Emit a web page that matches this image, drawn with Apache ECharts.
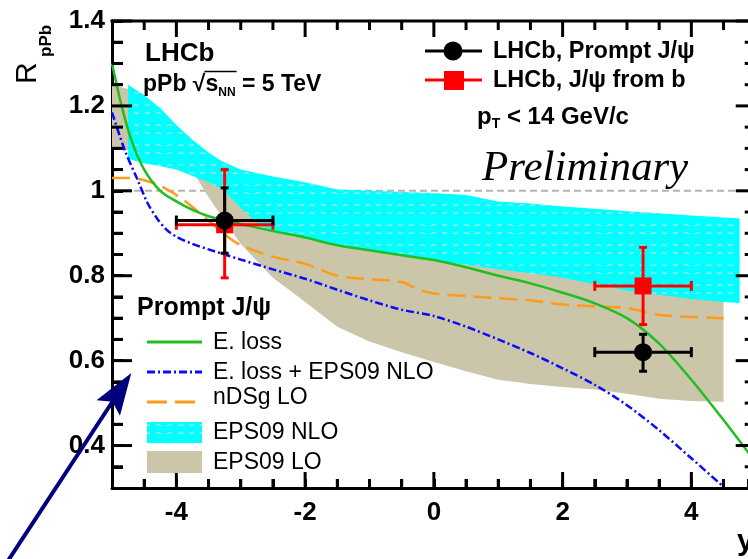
<!DOCTYPE html>
<html>
<head>
<meta charset="utf-8">
<script src="https://cdn.jsdelivr.net/npm/echarts@6/dist/echarts.min.js"></script>
<style>
  html, body { margin: 0; padding: 0; background: #fff; }
  #chart { width: 748px; height: 559px; }
</style>
</head>
<body>
<div id="chart"></div>
<script>
// ---- axis ranges and tick labels ----
// the frame runs from y = -5 to 5; the visible window stops a little short of 5
const xMin = -5, xMax = 4.88, xFrameEnd = 5;
const yMin = 0.3, yMax = 1.4;
const xTickLabels = [-4, -2, 0, 2, 4];
const yTickLabels = [0.4, 0.6, 0.8, 1, 1.2, 1.4];
const xTickStep = 0.5;   // minor tick spacing on the rapidity axis
const yTickStep = 0.05;  // minor tick spacing on the R_pPb axis
const refLineY = [1, 1];
const refLineX = [-5, 5];

// ---- theory curves (rapidity y vs R_pPb) ----
const eLossX = [-5, -4.85, -4.7, -4.5, -4.25, -4, -3.75, -3.5, -3.25, -3, -2.5, -2, -1.5, -1, -0.5, 0, 0.5, 1, 1.5, 2, 2.5, 3, 3.5, 4, 4.5, 5];
const eLossY = [1.30, 1.20, 1.12, 1.05, 1.00, 0.975, 0.955, 0.94, 0.93, 0.922, 0.905, 0.89, 0.872, 0.86, 0.848, 0.837, 0.82, 0.80, 0.782, 0.76, 0.735, 0.70, 0.64, 0.555, 0.46, 0.36];

const eLossEpsX = [-5, -4.8, -4.6, -4.45, -4.3, -4.15, -4, -3.75, -3.5, -3.25, -3, -2.5, -2, -1.5, -1, -0.5, 0, 0.5, 1, 1.5, 2, 2.5, 3, 3.5, 4, 4.5];
const eLossEpsY = [1.185, 1.095, 1.025, 0.972, 0.935, 0.908, 0.892, 0.875, 0.862, 0.85, 0.838, 0.815, 0.793, 0.767, 0.742, 0.72, 0.705, 0.68, 0.65, 0.618, 0.582, 0.543, 0.495, 0.436, 0.37, 0.303];

const ndsgX = [-5, -4.75, -4.5, -4.25, -4, -3.75, -3.5, -3.25, -3, -2.5, -2, -1.5, -1, -0.5, -0.25, 0, 0.5, 1, 1.5, 2, 2.5, 3, 3.5, 4, 4.5];
const ndsgY = [1.03, 1.03, 1.025, 1.012, 0.99, 0.962, 0.93, 0.897, 0.872, 0.845, 0.828, 0.80, 0.792, 0.785, 0.768, 0.758, 0.752, 0.747, 0.742, 0.732, 0.728, 0.724, 0.708, 0.703, 0.70];

// ---- EPS09 uncertainty bands ----
const nloX  = [-4.75, -4.5, -4.25, -4, -3.75, -3.5, -3.3, -3, -2.75, -2.5, -2, -1.5, -1, -0.5, 0, 0.5, 1, 1.5, 2, 2.5, 3, 3.5, 4, 4.5, 4.75];
const nloHi = [1.25, 1.225, 1.195, 1.155, 1.12, 1.09, 1.07, 1.05, 1.042, 1.034, 1.02, 1.003, 1.0, 0.997, 0.995, 0.99, 0.975, 0.97, 0.963, 0.958, 0.952, 0.947, 0.942, 0.937, 0.935];
const nloLo = [1.075, 1.065, 1.058, 1.05, 1.035, 1.02, 1.005, 0.96, 0.925, 0.905, 0.888, 0.872, 0.86, 0.848, 0.837, 0.826, 0.815, 0.806, 0.795, 0.78, 0.765, 0.755, 0.745, 0.738, 0.736];

const loX  = [-5, -4.75, -4.5, -4, -3.7, -3.5, -3.25, -3, -2.5, -2, -1.5, -1, -0.5, 0, 0.5, 1, 1.5, 2, 2.5, 3, 3.5, 4, 4.5];
const loHi = [1.25, 1.24, 1.21, 1.13, 1.08, 1.06, 1.04, 1.02, 1.0, 0.99, 0.975, 0.96, 0.95, 0.94, 0.93, 0.92, 0.91, 0.9, 0.89, 0.88, 0.87, 0.86, 0.85];
const loLo = [1.10, 1.095, 1.085, 1.06, 1.035, 0.985, 0.93, 0.875, 0.795, 0.738, 0.68, 0.645, 0.62, 0.597, 0.575, 0.555, 0.545, 0.538, 0.532, 0.522, 0.51, 0.505, 0.503];

// ---- LHCb measurements ----
const promptX = [-3.25, 3.25];
const promptY = [0.93, 0.62];
const promptXLo = [-4, 2.5];
const promptXHi = [-2.5, 4];
const promptYLo = [0.853, 0.575];
const promptYHi = [1.007, 0.662];

const fromBX = [-3.25, 3.25];
const fromBY = [0.92, 0.776];
const fromBXLo = [-4, 2.5];
const fromBXHi = [-2.5, 4];
const fromBYLo = [0.795, 0.685];
const fromBYHi = [1.05, 0.867];

// ---- arrow annotation (data coordinates) ----
const arrowFrom = [-6.77, 0.093];
const arrowTo = [-4.70, 0.571];

// ---- colours ----
const GREEN = '#1fbf1f';
const BLUE = '#0a0aff';
const ORANGE = '#ff9a1a';
const CYAN = '#00ffff';
const TAN = '#cbc5aa';
const NAVY = '#00007f';
const FONT = '"Liberation Sans", Arial, Helvetica, sans-serif';

// every tick position (labelled and unlabelled) inside the frame
function tickValues(from, to, step) {
  const out = [];
  const n = Math.round((to - from) / step);
  for (let i = 1; i < n; i++) out.push(+(from + i * step).toFixed(4));
  return out;
}
const xTicksAll = tickValues(xMin, xFrameEnd, xTickStep);
const yTicksAll = tickValues(yMin, yMax, yTickStep).concat([yMax]);
const isMajor = (list, v) => list.some(m => Math.abs(m - v) < 1e-6);

// cyan fill with little white zigzags
function hatch() {
  const c = document.createElement('canvas');
  c.width = 11; c.height = 20;
  const g = c.getContext('2d');
  g.fillStyle = CYAN; g.fillRect(0, 0, 11, 20);
  g.fillStyle = 'rgba(255,255,255,0.85)';
  [4, 12].forEach(yy => {
    g.fillRect(2, yy + 1, 1, 1); g.fillRect(3, yy, 1, 1);
    g.fillRect(4, yy + 1, 1, 1); g.fillRect(5, yy, 1, 1); g.fillRect(6, yy + 1, 1, 1);
  });
  return c;
}
const cyanBandFill = { image: hatch(), repeat: 'repeat' };
const cyanKeyFill = { image: hatch(), repeat: 'repeat' };

// a line element with its own style object
function seg(x1, y1, x2, y2, stroke, lineWidth, lineDash) {
  const style = { stroke: stroke || '#000', lineWidth: lineWidth || 3 };
  if (lineDash) style.lineDash = lineDash;
  return { type: 'line', shape: { x1, y1, x2, y2 }, style };
}

function band(name, xs, lo, hi, fill, z) {
  return {
    type: 'custom', name, clip: true, z,
    data: [[xs[0], hi[0]]],
    renderItem(params, api) {
      const pts = [];
      for (let i = 0; i < xs.length; i++) pts.push(api.coord([xs[i], hi[i]]));
      for (let i = xs.length - 1; i >= 0; i--) pts.push(api.coord([xs[i], lo[i]]));
      return { type: 'polygon', shape: { points: pts }, style: { fill, stroke: null } };
    }
  };
}

function curve(name, xs, ys, color, type, z) {
  return {
    type: 'line', name, z, showSymbol: false, smooth: 0.3,
    data: xs.map((x, i) => [x, ys[i]]),
    lineStyle: { color, width: 2.5, type }
  };
}

// measurement points with their x and y error bars
function measurement(name, xs, ys, xlo, xhi, ylo, yhi, color, marker, z) {
  return {
    type: 'custom', name, z, clip: false,
    data: xs.map((x, i) => [x, ys[i], xlo[i], xhi[i], ylo[i], yhi[i]]),
    renderItem(params, api) {
      const x = api.value(0), y = api.value(1);
      const c = api.coord([x, y]);
      const l = api.coord([api.value(2), y]), r = api.coord([api.value(3), y]);
      const b = api.coord([x, api.value(4)]), t = api.coord([x, api.value(5)]);
      const mark = marker === 'circle'
        ? { type: 'circle', shape: { cx: c[0], cy: c[1], r: 9 }, style: { fill: color } }
        : { type: 'rect', shape: { x: c[0] - 8.5, y: c[1] - 8.5, width: 17, height: 17 }, style: { fill: color } };
      return {
        type: 'group', children: [
          seg(l[0], l[1], r[0], r[1], color),
          seg(t[0], t[1], b[0], b[1], color),
          seg(l[0], l[1] - 5, l[0], l[1] + 5, color),
          seg(r[0], r[1] - 5, r[0], r[1] + 5, color),
          seg(t[0] - 4, t[1], t[0] + 4, t[1], color),
          seg(b[0] - 4, b[1], b[0] + 4, b[1], color),
          mark
        ]
      };
    }
  };
}

// inward tick marks, one item per tick, placed through the axis scales
const yTickSeries = {
  type: 'custom', name: 'yticks', z: 20, clip: false,
  data: yTicksAll.map(v => [xMin, v]),
  renderItem(params, api) {
    const v = api.value(1);
    const p = api.coord([xMin, v]);
    const pe = api.coord([xMax, v]);
    // right edge of the frame at y = 5, just past the visible window
    const qx = p[0] + (pe[0] - p[0]) * (xFrameEnd - xMin) / (xMax - xMin);
    const L = isMajor(yTickLabels, v) ? 20 : 11;
    return { type: 'group', children: [
      seg(p[0], p[1], p[0] + L, p[1]),
      seg(qx, p[1], qx - L, p[1])
    ] };
  }
};
const xTickSeries = {
  type: 'custom', name: 'xticks', z: 20, clip: false,
  data: xTicksAll.map(v => [v, yMin]),
  renderItem(params, api) {
    const v = api.value(0);
    const p = api.coord([v, yMin]);
    const q = api.coord([v, yMax]);
    const L = isMajor(xTickLabels, v) ? 16 : 9;
    return { type: 'group', children: [
      seg(p[0], p[1], p[0], p[1] - L),
      seg(q[0], q[1], q[0], q[1] + L)
    ] };
  }
};
// upper edge of the frame
const topFrame = {
  type: 'custom', name: 'frame', z: 20, clip: false,
  data: [[0, yMax]],
  renderItem(params, api) {
    const a = api.coord([xMin, yMax]);
    const b = api.coord([xMax, yMax]);
    return { type: 'group', children: [seg(a[0] - 1.5, a[1], b[0], b[1])] };
  }
};

// arrow pointing at the legend
const arrowSeries = {
  type: 'custom', name: 'arrow', z: 40, clip: false,
  data: [arrowTo],
  renderItem(params, api) {
    const p0 = api.coord(arrowFrom);
    const p1 = api.coord(arrowTo);
    const dx = p1[0] - p0[0], dy = p1[1] - p0[1];
    const len = Math.hypot(dx, dy);
    const ux = dx / len, uy = dy / len;
    const headLen = 42, headHalf = 14;
    const base = [p1[0] - ux * headLen, p1[1] - uy * headLen];
    const notch = [p1[0] - ux * headLen * 0.82, p1[1] - uy * headLen * 0.82];
    return { type: 'group', children: [
      seg(p0[0], p0[1], notch[0], notch[1], NAVY, 4),
      { type: 'polygon', shape: { points: [
        p1,
        [base[0] - uy * headHalf, base[1] + ux * headHalf],
        notch,
        [base[0] + uy * headHalf, base[1] - ux * headHalf]
      ] }, style: { fill: NAVY } }
    ] };
  }
};

// text measuring for the square-root overline
const meas = document.createElement('canvas').getContext('2d');
function textWidth(str, font) { meas.font = font; return meas.measureText(str).width; }

const BOLD = s => `bold ${s}px ${FONT}`;
const PLAIN = s => `${s}px ${FONT}`;
const txt = (x, y, text, font) => ({
  type: 'text', x, y,
  style: { text, fill: '#000', font, verticalAlign: 'middle', align: 'left' }
});

const energyFont = BOLD(23);
const rootStart = 143 + textWidth('pPb \u221a', energyFont);
const rootEnd = 143 + textWidth('pPb \u221as', energyFont) + textWidth('NN', BOLD(12)) + 1;

// legends, labels and titles
function annotationItems() {
  return [
    // theory legend
    txt(137, 308, 'Prompt J/\u03c8', BOLD(25)),
    seg(147, 342, 202, 342, GREEN, 3),
    txt(213, 343, 'E. loss', PLAIN(23)),
    seg(147, 372, 202, 372, BLUE, 3, [8, 3, 2, 3]),
    txt(213, 373, 'E. loss + EPS09 NLO', PLAIN(23)),
    seg(147, 402, 202, 402, ORANGE, 3, [20, 8]),
    txt(213, 398, 'nDSg LO', PLAIN(23)),
    { type: 'rect', shape: { x: 147, y: 422, width: 55, height: 21 }, style: { fill: cyanKeyFill } },
    txt(213, 433, 'EPS09 NLO', PLAIN(23)),
    { type: 'rect', shape: { x: 147, y: 451, width: 55, height: 22 }, style: { fill: TAN } },
    txt(213, 463, 'EPS09 LO', PLAIN(23)),

    // data legend
    seg(425, 51, 482, 51, '#000', 3),
    { type: 'circle', shape: { cx: 453, cy: 51, r: 9.5 }, style: { fill: '#000' } },
    txt(493, 52, 'LHCb, Prompt J/\u03c8', BOLD(23.5)),
    seg(425, 80, 482, 80, '#ff0000', 3),
    { type: 'rect', shape: { x: 444, y: 71, width: 20, height: 19 }, style: { fill: '#ff0000' } },
    txt(493, 81, 'LHCb, J/\u03c8 from b', BOLD(23.5)),
    {
      type: 'text', x: 477, y: 117,
      style: {
        text: '{n|p}{s|T}{n| < 14 GeV/c}', verticalAlign: 'middle', align: 'left',
        rich: {
          n: { fontFamily: FONT, fontWeight: 'bold', fontSize: 24, fill: '#000', lineHeight: 29, verticalAlign: 'middle' },
          s: { fontFamily: FONT, fontWeight: 'bold', fontSize: 14, fill: '#000', lineHeight: 29, verticalAlign: 'bottom' }
        }
      }
    },
    {
      type: 'text', x: 482, y: 169,
      style: { text: 'Preliminary', fill: '#000', font: 'italic 43px "Liberation Serif", "Times New Roman", serif', verticalAlign: 'middle', align: 'left' }
    },

    // experiment label
    txt(145, 54, 'LHCb', BOLD(26)),
    {
      type: 'text', x: 143, y: 85,
      style: {
        text: '{n|pPb \u221as}{s|NN}{n| = 5 TeV}', verticalAlign: 'middle', align: 'left',
        rich: {
          n: { fontFamily: FONT, fontWeight: 'bold', fontSize: 23, fill: '#000', lineHeight: 27, verticalAlign: 'middle' },
          s: { fontFamily: FONT, fontWeight: 'bold', fontSize: 12, fill: '#000', lineHeight: 27, verticalAlign: 'bottom' }
        }
      }
    },
    seg(rootStart - 1, 71.5, rootEnd, 71.5, '#000', 1.5),

    // axis titles
    { type: 'text', x: 28, y: 84, rotation: Math.PI / 2,
      style: { text: 'R', fill: '#000', font: PLAIN(30), verticalAlign: 'middle', align: 'left' } },
    { type: 'text', x: 46, y: 57, rotation: Math.PI / 2,
      style: { text: 'pPb', fill: '#000', font: BOLD(17), verticalAlign: 'middle', align: 'left' } },
    { type: 'text', x: 737, y: 542,
      style: { text: 'y', fill: '#000', font: BOLD(30), verticalAlign: 'middle', align: 'left' } }
  ];
}

const annotationSeries = {
  type: 'custom', name: 'annotations', z: 30, clip: false,
  data: [[0, 1]],
  renderItem() {
    return { type: 'group', children: annotationItems() };
  }
};

const chart = echarts.init(document.getElementById('chart'), null, { renderer: 'canvas' });

chart.setOption({
  animation: false,
  grid: { left: 112, right: 0, top: 21, bottom: 71 },
  xAxis: [{
    type: 'value', position: 'bottom', min: xMin, max: xMax, interval: xTickStep,
    axisLine: { show: true, onZero: false, lineStyle: { color: '#000', width: 3 } },
    axisTick: { show: true, inside: true, length: 9, lineStyle: { color: '#000', width: 3 } },
    axisLabel: { customValues: xTickLabels, color: '#000', fontSize: 26, fontWeight: 'bold', fontFamily: FONT, margin: 12 },
    splitLine: { show: false }
  }],
  yAxis: [{
    type: 'value', position: 'left', min: yMin, max: yMax, interval: yTickStep,
    axisLine: { show: true, onZero: false, lineStyle: { color: '#000', width: 3 } },
    axisTick: { show: true, inside: true, length: 11, lineStyle: { color: '#000', width: 3 } },
    axisLabel: { customValues: yTickLabels, color: '#000', fontSize: 26, fontWeight: 'bold', fontFamily: FONT, margin: 7 },
    splitLine: { show: false }
  }],
  series: [
    {
      type: 'line', name: 'unity', z: 1, showSymbol: false,
      data: refLineX.map((x, i) => [x, refLineY[i]]),
      lineStyle: { color: '#b4b4b4', width: 2, type: [7, 4] }
    },
    band('EPS09 LO', loX, loLo, loHi, TAN, 2),
    band('EPS09 NLO', nloX, nloLo, nloHi, cyanBandFill, 3),
    curve('E. loss', eLossX, eLossY, GREEN, 'solid', 5),
    curve('E. loss + EPS09 NLO', eLossEpsX, eLossEpsY, BLUE, [8, 3, 2, 3], 4),
    curve('nDSg LO', ndsgX, ndsgY, ORANGE, [18, 8], 4),
    measurement('LHCb, J/\u03c8 from b', fromBX, fromBY, fromBXLo, fromBXHi, fromBYLo, fromBYHi, '#ff0000', 'rect', 6),
    measurement('LHCb, Prompt J/\u03c8', promptX, promptY, promptXLo, promptXHi, promptYLo, promptYHi, '#000', 'circle', 8),
    yTickSeries,
    xTickSeries,
    topFrame,
    annotationSeries,
    arrowSeries
  ]
});
</script>
</body>
</html>
